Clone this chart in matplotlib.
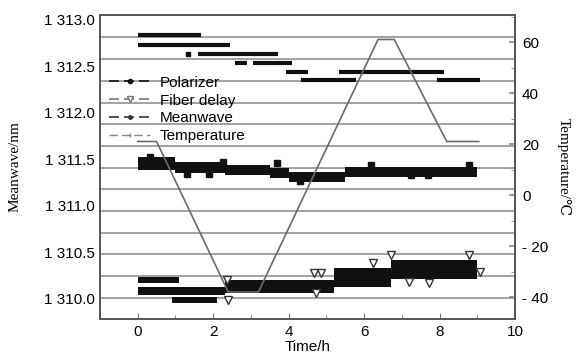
import matplotlib
matplotlib.use("Agg")
import matplotlib.pyplot as plt
from matplotlib.ticker import FixedLocator, MultipleLocator

# polarizer : segments horizontaux (debut, fin, valeur en nm)
pol_debut = [0.0, 0.0, 1.6, 2.59, 3.05, 3.92, 5.33, 4.32, 7.92]
pol_fin = [1.67, 2.45, 3.73, 2.9, 4.1, 4.5, 8.11, 5.79, 9.06]
pol_val = [1312.83, 1312.73, 1312.63, 1312.53, 1312.53, 1312.44, 1312.44, 1312.35, 1312.35]
pol_pt_t = [1.33]
pol_pt_v = [1312.63]

# meanwave : bande (temps, bas, haut)
mw_t = [0.0, 1.0, 2.3, 3.5, 4.0, 5.5, 9.0]
mw_bas = [1311.39, 1311.35, 1311.33, 1311.30, 1311.26, 1311.31, 1311.31]
mw_haut = [1311.53, 1311.47, 1311.44, 1311.41, 1311.36, 1311.42, 1311.42]
mw_pt_t = [0.32, 2.27, 6.19, 8.77, 7.25, 7.7, 3.7, 1.3, 1.9, 4.3]
mw_pt_v = [1311.53, 1311.47, 1311.44, 1311.44, 1311.33, 1311.33, 1311.46, 1311.34, 1311.34, 1311.27]

# fiber delay : bandes
fd_t = [0.0, 2.3, 4.7, 5.2, 6.7, 9.0]
fd_bas = [1310.04, 1310.06, 1310.06, 1310.13, 1310.21, 1310.21]
fd_haut = [1310.13, 1310.20, 1310.20, 1310.33, 1310.42, 1310.42]
fd2_t = [0.0, 1.1]
fd2_bas = [1310.17, 1310.17]
fd2_haut = [1310.24, 1310.24]
fd3_t = [0.9, 2.1]
fd3_bas = [1309.96, 1309.96]
fd3_haut = [1310.02, 1310.02]
fd_pt_t = [2.37, 2.4, 4.67, 4.72, 4.85, 6.24, 6.72, 7.2, 7.73, 8.77, 9.07]
fd_pt_v = [1310.20, 1309.99, 1310.28, 1310.06, 1310.28,
           1310.39, 1310.47, 1310.18, 1310.17, 1310.47, 1310.29]

# temperature
temp_t = [0.0, 0.5, 2.4, 3.2, 6.37, 6.8, 8.19, 9.04]
temp_v = [21, 21, -38, -38, 61, 61, 21, 21]

# lignes horizontales grises
grille = [1310.01, 1310.245, 1310.48, 1310.71, 1310.945, 1311.18, 1311.41,
          1311.645, 1311.88, 1312.11, 1312.345, 1312.58, 1312.81]

gauche_ticks = [1310.0, 1310.5, 1311.0, 1311.5, 1312.0, 1312.5, 1313.0]
gauche_labels = ['1 310.0', '1 310.5', '1 311.0', '1 311.5', '1 312.0', '1 312.5', '1 313.0']
droite_ticks = [-40, -20, 0, 20, 40, 60]
droite_labels = ['- 40', '- 20', '0', '20', '40', '60']

plt.rcParams['font.family'] = ['Liberation Sans', 'DejaVu Sans']

fig = plt.figure(figsize=(5.81, 3.6), dpi=100)
ax = fig.add_axes([100/581, 41/360, 415/581, 304/360])
ax2 = ax.twinx()

for g in grille:
    ax.axhline(g, color='#9a9a9a', lw=1.3, zorder=0)

ax.hlines(pol_val, pol_debut, pol_fin, color='#111111', lw=3.0, zorder=3)
ax.plot(pol_pt_t, pol_pt_v, 's', color='#111111', ms=3, zorder=3)

ax.fill_between(mw_t, mw_bas, mw_haut, step='post', color='#111111', lw=0, zorder=3)
ax.plot(mw_pt_t, mw_pt_v, 's', color='#111111', ms=4, zorder=3)

ax.fill_between(fd_t, fd_bas, fd_haut, step='post', color='#111111', lw=0, zorder=3)
ax.fill_between(fd2_t, fd2_bas, fd2_haut, step='post', color='#111111', lw=0, zorder=3)
ax.fill_between(fd3_t, fd3_bas, fd3_haut, step='post', color='#111111', lw=0, zorder=3)
ax.plot(fd_pt_t, fd_pt_v, 'v', mfc='white', mec='#333333', ms=6, mew=1, zorder=4)

ax2.plot(temp_t, temp_v, color='#6a6a6a', lw=1.2, zorder=2)

ax.set_xlim(-1, 10)
ax.set_ylim(1309.785, 1313.05)
ax2.set_ylim(-48.6, 70.6)

ax.set_xticks([0, 2, 4, 6, 8, 10])
ax.xaxis.set_minor_locator(MultipleLocator(1))
ax.tick_params(axis='x', which='both', direction='in', color='#777777', labelsize=11, pad=4)
ax.tick_params(axis='x', which='major', length=4)
ax.tick_params(axis='x', which='minor', length=3)
ax.set_yticks(gauche_ticks)
ax.set_yticklabels(gauche_labels)
ax.tick_params(axis='y', length=0, labelsize=11, pad=4)

ax2.yaxis.set_major_locator(FixedLocator(droite_ticks))
ax2.set_yticklabels(droite_labels)
ax2.yaxis.set_minor_locator(MultipleLocator(10))
ax2.tick_params(axis='y', which='both', direction='in', color='#888888', labelsize=11, pad=5)
ax2.tick_params(axis='y', which='major', length=4, width=1.2)
ax2.tick_params(axis='y', which='minor', length=3)

for a in (ax, ax2):
    for s in a.spines.values():
        s.set_color('#555555')
        s.set_linewidth(1.2)

ax.set_xlabel('Time/h', fontsize=11, labelpad=1)
ax.set_ylabel('Meanwave/nm', fontsize=11, family=['Liberation Serif', 'DejaVu Serif'], labelpad=16)
ax2.set_ylabel('Temperature/℃', fontsize=11, family=['Liberation Serif', 'DejaVu Serif'],
               rotation=270, labelpad=16)

# legende
h1, = ax.plot([], [], color='#111111', lw=1.2, ls=(0, (6, 3)), marker='o', ms=3)
h2, = ax.plot([], [], color='#777777', lw=1.2, ls=(0, (6, 3)), marker='v', ms=4, mfc='white')
h3, = ax.plot([], [], color='#333333', lw=1.2, ls=(0, (6, 3)), marker='o', ms=2.5)
h4, = ax.plot([], [], color='#888888', lw=1.0, ls=(0, (6, 3)), marker='|', ms=3)
ax.legend([h1, h2, h3, h4], ['Polarizer', 'Fiber delay', 'Meanwave', 'Temperature'],
          loc='upper left', bbox_to_anchor=(0.0, 0.83), frameon=False, fontsize=11,
          handlelength=2.7, handletextpad=0.6, labelspacing=0.25, borderaxespad=0.2)

fig.savefig('out.png', dpi=100)
